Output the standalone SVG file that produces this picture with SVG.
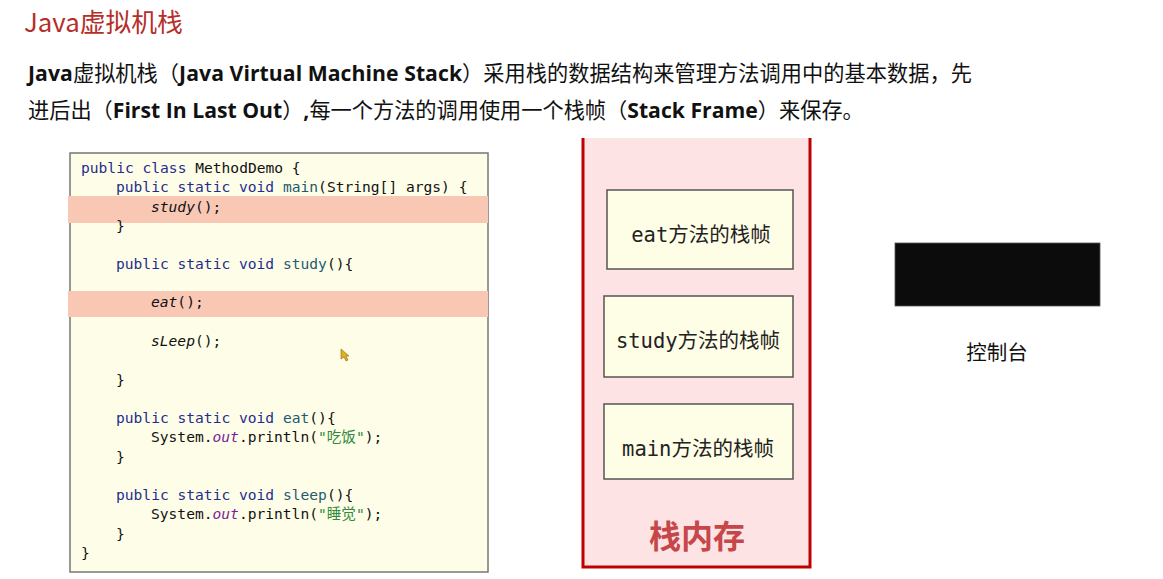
<svg xmlns="http://www.w3.org/2000/svg" width="1163" height="579" viewBox="0 0 1163 579">
  <style>
    .title { font-family: "Noto Sans CJK SC", sans-serif; font-size: 25.8px; fill: #b62e2a; }
    .para { font-family: "Open Sans", "Noto Sans CJK SC", sans-serif; font-size: 21.2px; fill: #111; }
    .b { font-weight: bold; }
    .code { font-family: "DejaVu Sans Mono", "Noto Sans CJK SC", monospace; font-size: 14.6px; fill: #111; white-space: pre; }
    .kw { fill: #1f2d8f; }
    .fn { fill: #1e5a70; }
    .it { font-style: italic; }
    .out { fill: #7b1f9c; font-style: italic; }
    .str { fill: #2f8a3c; }
    .frame { fill: #fefde6; stroke: #555; stroke-width: 1.5; }
    .ftxt { font-family: "DejaVu Sans Mono", "Noto Sans CJK SC", monospace; font-size: 20.5px; fill: #222; text-anchor: middle; }
    .hl { fill: #f8c8b5; }
  </style>
  <rect width="1163" height="579" fill="#ffffff"/>

  <g id="title">
    <text class="title" x="24" y="32">Java虚拟机栈</text>
  </g>

  <g id="description">
    <text class="para" x="28" y="81" textLength="944" lengthAdjust="spacing"><tspan class="b">Java</tspan>虚拟机栈（<tspan class="b">Java Virtual Machine Stack</tspan>）采用栈的数据结构来管理方法调用中的基本数据，先</text>
    <text class="para" x="28" y="118">进后出（<tspan class="b">First In Last Out</tspan>）<tspan class="b">,</tspan>每一个方法的调用使用一个栈帧（<tspan class="b">Stack Frame</tspan>）来保存。</text>
  </g>

  <g id="code-block">
    <rect x="70" y="153" width="418" height="419" fill="#fefde8" stroke="#777" stroke-width="1.5"/>
    <rect class="hl" x="68" y="196" width="420" height="27"/>
    <rect class="hl" x="68" y="291" width="420" height="26"/>
    <text class="code" x="81" y="173"><tspan class="kw">public class</tspan> MethodDemo {</text>
    <text class="code" x="116" y="192"><tspan class="kw">public static void</tspan> <tspan class="fn">main</tspan>(String[] args) {</text>
    <text class="code" x="151" y="212"><tspan class="it">study</tspan>();</text>
    <text class="code" x="116" y="231">}</text>
    <text class="code" x="116" y="269"><tspan class="kw">public static void</tspan> <tspan class="fn">study</tspan>(){</text>
    <text class="code" x="151" y="307"><tspan class="it">eat</tspan>();</text>
    <text class="code" x="151" y="346"><tspan class="it">sLeep</tspan>();</text>
    <text class="code" x="116" y="385">}</text>
    <text class="code" x="116" y="423"><tspan class="kw">public static void</tspan> <tspan class="fn">eat</tspan>(){</text>
    <text class="code" x="151" y="442">System.<tspan class="out">out</tspan>.println(<tspan class="str">"吃饭"</tspan>);</text>
    <text class="code" x="116" y="462">}</text>
    <text class="code" x="116" y="500"><tspan class="kw">public static void</tspan> <tspan class="fn">sleep</tspan>(){</text>
    <text class="code" x="151" y="519">System.<tspan class="out">out</tspan>.println(<tspan class="str">"睡觉"</tspan>);</text>
    <text class="code" x="116" y="539">}</text>
    <text class="code" x="81" y="558">}</text>
    <polygon points="341,349 341,359 344,357 346,361 348,360 346,356 349,356" fill="#e0b020" stroke="#8a6a10" stroke-width="0.6"/>
  </g>

  <g id="stack-memory">
    <rect x="583" y="138" width="227" height="429" fill="#fde3e3"/>
    <polyline points="583,138 583,567 810,567 810,138" fill="none" stroke="#c00000" stroke-width="3"/>
    <text x="697" y="548" font-family="Noto Sans CJK SC, sans-serif" font-size="32" font-weight="bold" fill="#c6474a" text-anchor="middle">栈内存</text>
  </g>

  <g id="frame-eat">
    <rect class="frame" x="607" y="190" width="186" height="79"/>
    <text class="ftxt" x="701" y="242">eat方法的栈帧</text>
  </g>

  <g id="frame-study">
    <rect class="frame" x="604" y="296" width="189" height="81"/>
    <text class="ftxt" x="698" y="348">study方法的栈帧</text>
  </g>

  <g id="frame-main">
    <rect class="frame" x="604" y="404" width="189" height="75"/>
    <text class="ftxt" x="698" y="456">main方法的栈帧</text>
  </g>

  <g id="console">
    <rect x="895" y="243" width="205" height="63" fill="#0c0c0c" stroke="#555" stroke-width="0.8"/>
    <text x="997" y="360" font-family="Noto Sans CJK SC, sans-serif" font-size="20.5" fill="#111" text-anchor="middle">控制台</text>
  </g>

  <g id="connectors"></g>
</svg>
